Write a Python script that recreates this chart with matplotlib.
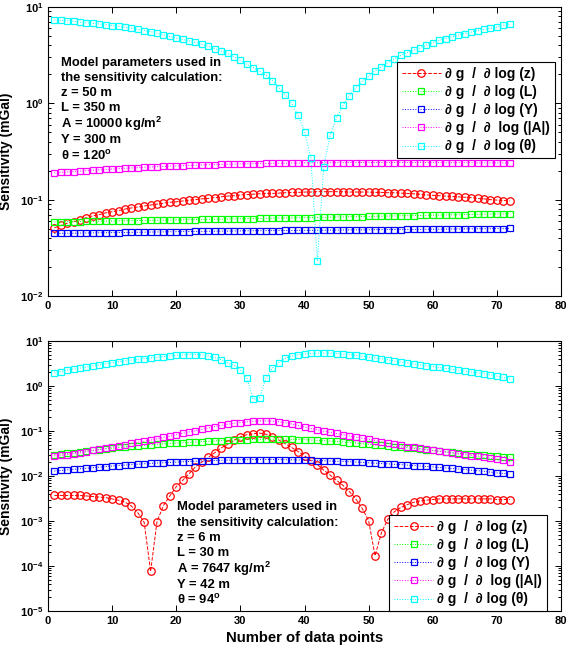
import matplotlib
matplotlib.use('Agg')
import matplotlib.pyplot as plt
from matplotlib.ticker import LogLocator, FuncFormatter, MultipleLocator, NullFormatter
import numpy as np

plt.rcParams['font.family'] = ['Liberation Sans', 'DejaVu Sans']
plt.rcParams['font.weight'] = 'bold'
plt.rcParams['axes.labelweight'] = 'bold'
plt.rcParams['mathtext.fontset'] = 'custom'
plt.rcParams['mathtext.rm'] = 'Liberation Sans:bold'
plt.rcParams['mathtext.bf'] = 'Liberation Sans:bold'
plt.rcParams['mathtext.it'] = 'Liberation Sans:bold:italic'

# data points 1..72
points = list(range(1, 73))

labels = ['∂ g  /  ∂ log (z)', '∂ g  /  ∂ log (L)', '∂ g  /  ∂ log (Y)',
          '∂ g  /  ∂  log (|A|)', '∂ g  /  ∂ log (θ)']

# ---- top model (z=50, L=350, A=10000, Y=300, theta=120)
top_z = [0.051, 0.054, 0.057, 0.059, 0.062, 0.065, 0.068, 0.070, 0.073, 0.075,
         0.077, 0.080, 0.082, 0.084, 0.086, 0.088, 0.090, 0.092, 0.094, 0.095,
         0.097, 0.099, 0.100, 0.102, 0.103, 0.105, 0.107, 0.109, 0.110, 0.112,
         0.113, 0.114, 0.115, 0.116, 0.116, 0.117, 0.118, 0.119, 0.119, 0.120,
         0.120, 0.121, 0.121, 0.121, 0.121, 0.121, 0.120, 0.120, 0.120, 0.120,
         0.119, 0.119, 0.118, 0.118, 0.117, 0.116, 0.115, 0.114, 0.112, 0.111,
         0.110, 0.109, 0.108, 0.107, 0.106, 0.105, 0.103, 0.102, 0.100, 0.099,
         0.098, 0.097]
top_L = [0.0587, 0.0588, 0.0590, 0.0591, 0.0593, 0.0594, 0.0596, 0.0597, 0.0599, 0.0600,
         0.0602, 0.0604, 0.0605, 0.0607, 0.0608, 0.0610, 0.0612, 0.0613, 0.0615, 0.0617,
         0.0618, 0.0620, 0.0622, 0.0623, 0.0625, 0.0627, 0.0628, 0.0630, 0.0632, 0.0634,
         0.0635, 0.0637, 0.0639, 0.0640, 0.0642, 0.0644, 0.0645, 0.0647, 0.0649, 0.0650,
         0.0652, 0.0654, 0.0656, 0.0658, 0.0660, 0.0662, 0.0664, 0.0666, 0.0668, 0.0670,
         0.0672, 0.0674, 0.0676, 0.0678, 0.0680, 0.0682, 0.0684, 0.0686, 0.0688, 0.0690,
         0.0692, 0.0694, 0.0696, 0.0698, 0.0700, 0.0702, 0.0704, 0.0706, 0.0708, 0.0710,
         0.0713, 0.0716]
top_Y = [0.0446, 0.0447, 0.0448, 0.0449, 0.0450, 0.0451, 0.0452, 0.0453, 0.0454, 0.0455,
         0.0456, 0.0457, 0.0458, 0.0459, 0.0460, 0.0461, 0.0462, 0.0463, 0.0464, 0.0465,
         0.0466, 0.0467, 0.0468, 0.0469, 0.0470, 0.0471, 0.0472, 0.0472, 0.0473, 0.0474,
         0.0475, 0.0476, 0.0476, 0.0477, 0.0478, 0.0478, 0.0479, 0.0479, 0.0480, 0.0480,
         0.0481, 0.0482, 0.0482, 0.0483, 0.0484, 0.0484, 0.0485, 0.0486, 0.0486, 0.0487,
         0.0488, 0.0488, 0.0489, 0.0490, 0.0490, 0.0491, 0.0492, 0.0492, 0.0493, 0.0494,
         0.0494, 0.0495, 0.0496, 0.0496, 0.0497, 0.0498, 0.0498, 0.0499, 0.0500, 0.0500,
         0.0501, 0.0502]
top_A = [0.190, 0.192, 0.194, 0.196, 0.198, 0.200, 0.202, 0.204, 0.206, 0.208,
         0.210, 0.212, 0.213, 0.215, 0.217, 0.218, 0.220, 0.221, 0.223, 0.224,
         0.225, 0.227, 0.228, 0.229, 0.230, 0.231, 0.232, 0.233, 0.234, 0.235,
         0.236, 0.236, 0.237, 0.238, 0.238, 0.239, 0.239, 0.240, 0.240, 0.241,
         0.241, 0.241, 0.242, 0.242, 0.242, 0.242, 0.243, 0.243, 0.243, 0.243,
         0.243, 0.243, 0.243, 0.243, 0.243, 0.243, 0.243, 0.243, 0.243, 0.243,
         0.242, 0.242, 0.242, 0.242, 0.242, 0.242, 0.241, 0.241, 0.241, 0.241,
         0.240, 0.240]
top_theta = [7.3, 7.25, 7.2, 7.1, 6.95, 6.85, 6.75, 6.65, 6.55, 6.4,
             6.3, 6.15, 6.0, 5.85, 5.7, 5.55, 5.35, 5.15, 4.95, 4.75,
             4.6, 4.45, 4.3, 4.1, 3.9, 3.7, 3.5, 3.3, 3.05, 2.8,
             2.55, 2.35, 2.15, 1.95, 1.72, 1.46, 1.22, 1.0, 0.75, 0.51,
             0.27, 0.023, 0.22, 0.47, 0.71, 0.95, 1.2, 1.45, 1.7, 1.9,
             2.17, 2.4, 2.65, 2.9, 3.15, 3.35, 3.55, 3.75, 4.05, 4.27,
             4.5, 4.7, 4.9, 5.1, 5.3, 5.5, 5.7, 5.85, 6.0, 6.2,
             6.45, 6.65]

# ---- bottom model (z=6, L=30, A=7647, Y=42, theta=94)
bot_z = [0.0037, 0.0037, 0.0037, 0.0037, 0.0037, 0.0036, 0.0035, 0.0034, 0.0033, 0.0031,
         0.0029, 0.00264, 0.00215, 0.00153, 0.00093, 0.000076, 0.00097, 0.0022, 0.0036, 0.0058,
         0.0080, 0.0112, 0.016, 0.0205, 0.026, 0.033, 0.042, 0.0506, 0.062, 0.074,
         0.083, 0.087, 0.090, 0.085, 0.075, 0.063, 0.052, 0.043, 0.035, 0.028,
         0.022, 0.018, 0.0135, 0.0105, 0.008, 0.0062, 0.0045, 0.0031, 0.0019, 0.00102,
         0.00017, 0.00055, 0.0011, 0.0016, 0.0020, 0.0023, 0.0026, 0.0028, 0.0029, 0.0030,
         0.0031, 0.0031, 0.0031, 0.0031, 0.0031, 0.0031, 0.0031, 0.0031, 0.0031, 0.0030,
         0.0030, 0.0030]
bot_L = [0.0298, 0.031, 0.032, 0.033, 0.0345, 0.036, 0.037, 0.0385, 0.040, 0.0415,
         0.043, 0.0443, 0.0456, 0.047, 0.0483, 0.0495, 0.0507, 0.052, 0.053, 0.054,
         0.055, 0.056, 0.057, 0.058, 0.059, 0.060, 0.061, 0.062, 0.063, 0.0638,
         0.0645, 0.065, 0.0655, 0.066, 0.066, 0.066, 0.0658, 0.0652, 0.0646, 0.064,
         0.063, 0.062, 0.061, 0.060, 0.0585, 0.057, 0.0555, 0.054, 0.0523, 0.0506,
         0.049, 0.0477, 0.0465, 0.0452, 0.044, 0.0425, 0.041, 0.0396, 0.0383, 0.037,
         0.0357, 0.0345, 0.0333, 0.0321, 0.031, 0.0303, 0.0296, 0.0289, 0.0282, 0.0275,
         0.0269, 0.0264]
bot_Y = [0.0129, 0.0133, 0.0137, 0.0141, 0.0145, 0.0149, 0.0153, 0.0157, 0.0162, 0.0167,
         0.0171, 0.0175, 0.0179, 0.0183, 0.0187, 0.0191, 0.0194, 0.0197, 0.0201, 0.0204,
         0.0207, 0.0210, 0.0213, 0.0216, 0.0219, 0.0221, 0.0224, 0.0226, 0.0228, 0.0230,
         0.0231, 0.0232, 0.0232, 0.0232, 0.0232, 0.0231, 0.0230, 0.0229, 0.0227, 0.0225,
         0.0223, 0.0220, 0.0218, 0.0215, 0.0213, 0.0210, 0.0207, 0.0204, 0.0201, 0.0196,
         0.0193, 0.0189, 0.0186, 0.0182, 0.0179, 0.0175, 0.0171, 0.0167, 0.0163, 0.0159,
         0.0155, 0.0151, 0.0147, 0.0143, 0.0139, 0.0135, 0.0131, 0.0127, 0.0122, 0.0117,
         0.0114, 0.0110]
bot_A = [0.028, 0.029, 0.030, 0.0315, 0.033, 0.035, 0.037, 0.039, 0.041, 0.044,
         0.047, 0.050, 0.053, 0.056, 0.059, 0.063, 0.067, 0.072, 0.077, 0.083,
         0.089, 0.095, 0.102, 0.109, 0.117, 0.125, 0.133, 0.141, 0.148, 0.154,
         0.160, 0.165, 0.168, 0.168, 0.165, 0.160, 0.152, 0.143, 0.133, 0.123,
         0.114, 0.106, 0.099, 0.093, 0.088, 0.083, 0.078, 0.073, 0.069, 0.065,
         0.061, 0.057, 0.054, 0.051, 0.048, 0.045, 0.043, 0.041, 0.039, 0.037,
         0.0355, 0.034, 0.0325, 0.031, 0.0298, 0.0285, 0.0272, 0.026, 0.0248, 0.0235,
         0.0222, 0.0208]
bot_theta = [1.98, 2.1, 2.25, 2.38, 2.5, 2.65, 2.8, 2.95, 3.1, 3.3,
             3.45, 3.6, 3.75, 3.9, 4.05, 4.2, 4.35, 4.5, 4.65, 4.8,
             4.9, 5.0, 5.0, 4.9, 4.65, 4.3, 3.85, 3.25, 2.88, 2.3,
             1.53, 0.51, 0.54, 1.53, 2.5, 3.3, 4.1, 4.6, 4.95, 5.15,
             5.3, 5.4, 5.4, 5.35, 5.25, 5.1, 4.95, 4.8, 4.6, 4.4,
             4.2, 4.0, 3.8, 3.6, 3.4, 3.25, 3.1, 2.95, 2.82, 2.7,
             2.58, 2.47, 2.36, 2.25, 2.15, 2.05, 1.95, 1.86, 1.77, 1.66,
             1.55, 1.43]

top_text = ['Model parameters used in', 'the sensitivity calculation:',
            'z = 50 m', 'L = 350 m', r'A = 10000 kg/m$^{\mathbf{2}}$',
            'Y = 300 m', r'θ = 120$^{\mathbf{o}}$']
bot_text = ['Model parameters used in', 'the sensitivity calculation:',
            'z = 6 m', 'L = 30 m', r'A = 7647 kg/m$^{\mathbf{2}}$',
            'Y = 42 m', r'θ = 94$^{\mathbf{o}}$']

colors = [(1, 0, 0), (0, 1, 0), (0, 0, 1), (1, 0, 1), (0, 1, 1)]
styles = ['--', ':', ':', ':', ':']
markers = ['o', 's', 's', 's', 's']

W, H = 567, 650
fig = plt.figure(figsize=(W / 100, H / 100), dpi=100)
ax1 = fig.add_axes([48 / W, 1 - 296 / H, 513 / W, 289 / H])
ax2 = fig.add_axes([48 / W, 1 - 611 / H, 513 / W, 270 / H])


def draw_panel(ax, series, ylo, yhi):
    for vals, c, ls, mk, lab in zip(series, colors, styles, markers, labels):
        ax.semilogy(points, vals, linestyle=ls, color=c, lw=0.7,
                    marker=mk, markersize=5.4 if mk == 'o' else 4.6,
                    markerfacecolor='none', markeredgecolor=c,
                    markeredgewidth=0.9, label=lab)
    ax.set_xlim(0, 80)
    ax.set_ylim(ylo, yhi)
    ax.xaxis.set_major_locator(MultipleLocator(10))
    ax.yaxis.set_major_locator(LogLocator(base=10, numticks=20))
    ax.yaxis.set_minor_locator(LogLocator(base=10, subs=np.arange(2, 10), numticks=20))
    ax.yaxis.set_minor_formatter(NullFormatter())
    ax.yaxis.set_major_formatter(FuncFormatter(lambda v, p: r'$\mathbf{10^{%d}}$' % round(np.log10(v))))
    ax.tick_params(which='both', direction='in', top=True, right=True, labelsize=8, width=0.7)
    ax.tick_params(which='major', length=4)
    ax.tick_params(which='minor', length=2.2)
    for s in ax.spines.values():
        s.set_linewidth(0.8)
    ax.set_ylabel('Sensitivity (mGal)', fontsize=10, labelpad=5)


draw_panel(ax1, [top_z, top_L, top_Y, top_A, top_theta], 1e-2, 1e1)
draw_panel(ax2, [bot_z, bot_L, bot_Y, bot_A, bot_theta], 1e-5, 1e1)
ax2.set_xlabel('Number of data points', fontsize=10.7, labelpad=4)

# parameter notes, one line at a time (pixel rows)
for txt, py in zip(top_text, [63, 78, 93, 108, 124, 140, 156]):
    fig.text(61 / W, 1 - py / H, txt, fontsize=9.4, va='center', ha='left')
for txt, py in zip(bot_text, [507, 523, 538, 553, 569, 585, 600]):
    fig.text(177 / W, 1 - py / H, txt, fontsize=9.4, va='center', ha='left')

leg_kw = dict(loc='upper right', borderaxespad=0, fontsize=10, fancybox=False,
              framealpha=1, edgecolor='k', handlelength=2.8, handletextpad=0.3,
              labelspacing=0.3, borderpad=0.35, numpoints=1)
l1 = ax1.legend(bbox_to_anchor=(0.988, 0.81), **leg_kw)
l2 = ax2.legend(bbox_to_anchor=(0.973, 0.356), **leg_kw)
for lg in (l1, l2):
    lg.get_frame().set_linewidth(0.8)

fig.savefig('out.png', dpi=100)
